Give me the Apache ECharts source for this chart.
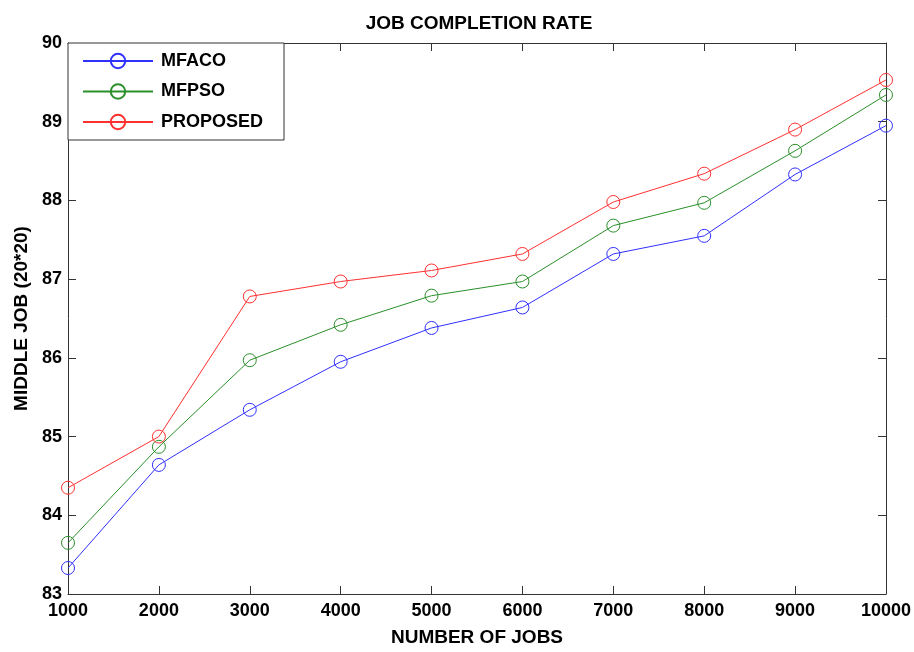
<!DOCTYPE html>
<html>
<head>
<meta charset="utf-8">
<title>JOB COMPLETION RATE</title>
<script src="https://cdn.jsdelivr.net/npm/echarts@6/dist/echarts.min.js"></script>
<style>
html,body{margin:0;padding:0;background:#fff;overflow:hidden;}
#main{width:914px;height:652px;}
</style>
</head>
<body>
<div id="main"></div>
<script>
// 横轴：作业数量
var jobs = [1000, 2000, 3000, 4000, 5000, 6000, 7000, 8000, 9000, 10000];
var mfaco = [83.33, 84.64, 85.34, 85.95, 86.38, 86.64, 87.32, 87.55, 88.33, 88.95];
var mfpso = [83.65, 84.87, 85.97, 86.42, 86.79, 86.97, 87.68, 87.97, 88.63, 89.34];
var proposed = [84.35, 85.00, 86.78, 86.97, 87.11, 87.32, 87.98, 88.34, 88.90, 89.53];
var seriesNames = ['MFACO', 'MFPSO', 'PROPOSED'];
var seriesColors = ['#3030ff', '#2a8f2a', '#ff3030'];

var FONT = 'Liberation Sans, Arial, sans-serif';

function pairs(xs, ys){
	var out = [];
	for(var i=0;i<xs.length;i++){
		out.push([xs[i], ys[i]]);
	}
	return out;
}

function makeLine(name, ys, color){
	return {
		name: name,
		type: 'line',
		data: pairs(jobs, ys),
		symbol: 'circle',
		symbolSize: 13,
		showAllSymbol: true,
		lineStyle: {color: color, width: 1},
		itemStyle: {color: 'rgba(0,0,0,0)', borderColor: color, borderWidth: 1},
		emphasis: {disabled: true},
		animation: false
	};
}

// 坐标轴：刻度朝内，四边都有
function xAx(pos, show){
	return {
		type: 'value', position: pos, min: 1000, max: 10000, interval: 1000,
		axisLine: {show: true, onZero: false, lineStyle: {color: '#333', width: 1}},
		axisTick: {show: true, inside: true, length: 8, lineStyle: {color: '#333'}},
		splitLine: {show: false},
		axisLabel: {show: show, margin: 8, color: '#000', fontFamily: FONT, fontWeight: 'bold', fontSize: 18,
			formatter: function(v){ return String(v); }},
		name: show ? 'NUMBER OF JOBS' : '', nameLocation: 'middle', nameGap: 34,
		nameTextStyle: {color: '#000', fontFamily: FONT, fontWeight: 'bold', fontSize: 19}
	};
}
function yAx(pos, show){
	return {
		type: 'value', position: pos, min: 83, max: 90, interval: 1,
		axisLine: {show: true, onZero: false, lineStyle: {color: '#333', width: 1}},
		axisTick: {show: true, inside: true, length: 8, lineStyle: {color: '#333'}},
		splitLine: {show: false},
		axisLabel: {show: show, margin: 6, color: '#000', fontFamily: FONT, fontWeight: 'bold', fontSize: 18},
		name: show ? 'MIDDLE JOB (20*20)' : '', nameLocation: 'middle', nameGap: 34,
		nameTextStyle: {color: '#000', fontFamily: FONT, fontWeight: 'bold', fontSize: 19}
	};
}

var chart = echarts.init(document.getElementById('main'), null, {renderer: 'canvas', width: 914, height: 652});
var option = {
	backgroundColor: '#fff',
	animation: false,
	title: {
		text: 'JOB COMPLETION RATE',
		left: 474, top: 9, textAlign: 'center',
		textStyle: {color: '#000', fontFamily: FONT, fontWeight: 'bold', fontSize: 19}
	},
	grid: {left: 68, right: 26, top: 43, bottom: 49, containLabel: false},
	legend: {
		data: seriesNames,
		orient: 'vertical',
		left: 68, top: 43,
		padding: [9, 21, 9, 14],
		itemWidth: 70, itemHeight: 18, itemGap: 12.5,
		backgroundColor: '#fff',
		borderColor: '#333', borderWidth: 1, borderRadius: 0,
		selectedMode: false,
		textStyle: {color: '#000', fontFamily: FONT, fontWeight: 'bold', fontSize: 18, padding: [0, 0, 0, 3]}
	},
	xAxis: [xAx('bottom', true), xAx('top', false)],
	yAxis: [yAx('left', true), yAx('right', false)],
	series: [
		makeLine(seriesNames[0], mfaco, seriesColors[0]),
		makeLine(seriesNames[1], mfpso, seriesColors[1]),
		makeLine(seriesNames[2], proposed, seriesColors[2])
	]
};
chart.setOption(option);
</script>
</body>
</html>
